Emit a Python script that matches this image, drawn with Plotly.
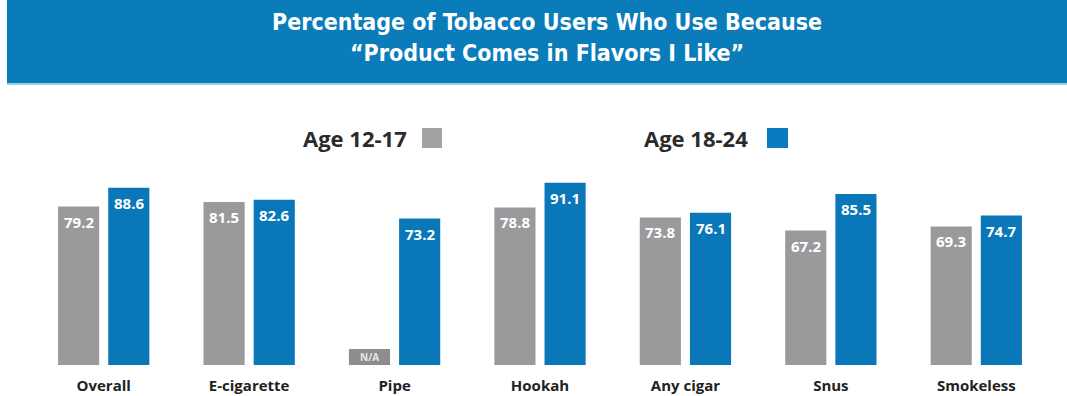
import plotly.graph_objects as go

categories = ["Overall", "E-cigarette", "Pipe", "Hookah", "Any cigar", "Snus", "Smokeless"]
age_12_17 = [79.2, 81.5, None, 78.8, 73.8, 67.2, 69.3]
age_18_24 = [88.6, 82.6, 73.2, 91.1, 76.1, 85.5, 74.7]
series_names = ["Age 12-17", "Age 18-24"]
title_lines = ["Percentage of Tobacco Users Who Use Because", "\u201cProduct Comes in Flavors I Like\u201d"]

# styling
GRAY = "#9a9a9c"
GRAY_NA = "#8d8d8f"
BLUE = "#0a77b9"
BANNER = "#0a7cb9"
NA_HEIGHT = 8  # placeholder bar height for N/A
FONT = "Open Sans, Roboto, Arial, sans-serif"
TFONT = "DejaVu Sans Condensed, sans-serif"
BARGAP, GROUPGAP = 0.31, 0.18

L, R, T, B = 31, 18, 165, 31
W, H = 1067, 396
pw, ph = W - L - R, H - T - B

gray_y = [v if v is not None else NA_HEIGHT for v in age_12_17]
gray_colors = [GRAY if v is not None else GRAY_NA for v in age_12_17]

fig = go.Figure()
fig.add_trace(go.Bar(
    x=categories, y=gray_y, name=series_names[0],
    marker=dict(color=gray_colors, line=dict(width=0)),
    hoverinfo="skip",
))
fig.add_trace(go.Bar(
    x=categories, y=age_18_24, name=series_names[1],
    marker=dict(color=BLUE, line=dict(width=0)),
    hoverinfo="skip",
))


def px(x):
    return (x - L) / pw


def py(y):
    return (H - B - y) / ph


# value labels placed with data coordinates, shifted to each bar of the group
slot = pw / len(categories) * (1 - BARGAP) / 2
offsets = [-slot / 2, slot / 2]
annotations = []
for si, vals in enumerate([age_12_17, age_18_24]):
    for cat, v in zip(categories, vals):
        if v is None:
            annotations.append(dict(
                x=cat, y=NA_HEIGHT / 2, xref="x", yref="y", text="N/A", showarrow=False,
                xshift=offsets[si], xanchor="center", yanchor="middle",
                font=dict(family=FONT, size=10, color="#e8e8e8", weight="bold")))
        else:
            annotations.append(dict(
                x=cat, y=v, xref="x", yref="y", text=f"{v:.1f}", showarrow=False,
                xshift=offsets[si], xanchor="center", yanchor="top", yshift=-3,
                font=dict(family=FONT, size=15, color="white", weight="bold")))

shapes = [
    dict(type="rect", xref="paper", yref="paper", x0=px(7), x1=px(1067), y0=py(83), y1=py(0),
         fillcolor=BANNER, line=dict(width=0), layer="below"),
    dict(type="rect", xref="paper", yref="paper", x0=px(7), x1=px(1067), y0=py(85), y1=py(83),
         fillcolor="#8fd3e6", line=dict(width=0), layer="below"),
    dict(type="rect", xref="paper", yref="paper", x0=px(422), x1=px(442), y0=py(148), y1=py(128),
         fillcolor="#a3a3a5", line=dict(width=0)),
    dict(type="rect", xref="paper", yref="paper", x0=px(767), x1=px(788), y0=py(148), y1=py(128),
         fillcolor="#0a7bc2", line=dict(width=0)),
]

annotations += [
    dict(text=title_lines[0], xref="paper", yref="paper", x=px(547), y=py(22), showarrow=False,
         xanchor="center", yanchor="middle",
         font=dict(family=TFONT, size=23, color="white", weight="bold")),
    dict(text=title_lines[1], xref="paper", yref="paper", x=px(547), y=py(53), showarrow=False,
         xanchor="center", yanchor="middle",
         font=dict(family=TFONT, size=23, color="white", weight="bold")),
    dict(text=series_names[0], xref="paper", yref="paper", x=px(409), y=py(138), xanchor="right",
         yanchor="middle", showarrow=False,
         font=dict(family=FONT, size=22, color="#2b2b2b", weight="bold")),
    dict(text=series_names[1], xref="paper", yref="paper", x=px(750), y=py(138), xanchor="right",
         yanchor="middle", showarrow=False,
         font=dict(family=FONT, size=22, color="#2b2b2b", weight="bold")),
]

fig.update_layout(
    width=W, height=H,
    margin=dict(l=L, r=R, t=T, b=B, pad=0, autoexpand=False),
    paper_bgcolor="white", plot_bgcolor="white",
    barmode="group", bargap=BARGAP, bargroupgap=GROUPGAP,
    showlegend=False,
    shapes=shapes, annotations=annotations,
    font=dict(family=FONT),
)
fig.update_xaxes(showgrid=False, zeroline=False, showline=False, ticks="", automargin=False,
                 tickfont=dict(family=FONT, size=15, color="#222222", weight="bold"),
                 ticklabelstandoff=10)
fig.update_yaxes(range=[0, 100], visible=False, showgrid=False, zeroline=False, automargin=False)

fig.write_html("out.html", config={"displayModeBar": False},
               post_script="document.body.style.margin='0';")
